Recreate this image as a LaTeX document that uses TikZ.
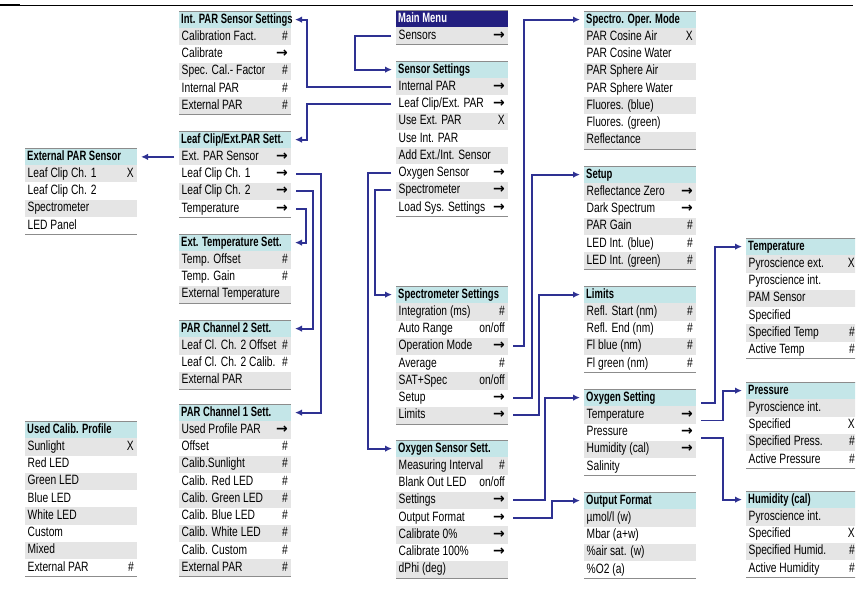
\documentclass[tikz,border=0pt]{standalone}
\usepackage{fontspec}
\setmainfont{Liberation Sans}[FakeStretch=0.76]
\newfontfamily\hdfont{Liberation Sans}[FakeStretch=0.70]
\newfontfamily\arrfont{DejaVu Sans}
\usetikzlibrary{arrows.meta,calc}
\definecolor{conncol}{RGB}{46,49,146}
\definecolor{hdcol}{RGB}{196,230,232}
\definecolor{mmcol}{RGB}{35,31,128}
\definecolor{rowgray}{RGB}{229,229,229}
\definecolor{edgecol}{RGB}{140,140,140}
\newcommand\ra{{\arrfont\bfseries\fontsize{14}{15}\selectfont →}}
\tikzset{
  rowbox/.style={draw=none, minimum width=112pt, minimum height=17.25pt, inner sep=0pt, outer sep=0pt, anchor=north west},
  hdbox/.style={rowbox, fill=hdcol},
  rowtext/.style={inner sep=0pt, text height=9.5pt, text depth=2.5pt, font=\fontsize{13.5}{15}\selectfont},
  hdtext/.style={inner sep=0pt, text height=9.5pt, text depth=2.5pt, font=\hdfont\bfseries\fontsize{13.5}{15}\selectfont},
  boxedge/.style={draw=edgecol, line width=0.9pt},
  conn/.style={draw=conncol, line width=1.8pt, -{Latex[length=7pt,width=6.5pt]}, shorten >=4pt, shorten <=5pt},
}
\newcommand\menubox[6][]{%
  \node[hdbox,#1] (#2-h) at (#3,#4) {};
  \node[hdtext,anchor=west,#1] (#2-ht) at ([xshift=2pt]#2-h.west) {#5};
  \draw[boxedge] (#2-h.north west) -- (#2-h.north east);
  \foreach[count=\i] \lab/\sym in {#6}{%
    \ifodd\i\def\rowfill{rowgray}\else\def\rowfill{white}\fi
    \node[rowbox, fill=\rowfill] (#2-\i) at (#3,{#4+17.25*\i}) {};
    \node[rowtext, anchor=west] (#2-\i-t) at ([xshift=2.5pt]#2-\i.west) {\lab};
    \node[rowtext, anchor=east] (#2-\i-s) at ([xshift=-3pt]#2-\i.east) {\sym};
    \xdef\lastrow{\i}
  }
  \draw[boxedge] (#2-\lastrow.south west) -- (#2-\lastrow.south east);
}
\begin{document}
\begin{tikzpicture}[x=1pt,y=-1pt]
\useasboundingbox (0,0) rectangle (864,604);
\begin{scope}
\clip (0,0) rectangle (855,604);
% top rule
\draw[line width=0.8pt] (0,5) -- (853,5);
\draw[line width=2.2pt] (0,5) -- (20,5);

% column C
\menubox[fill=mmcol,text=white]{mm}{396}{10}{Main Menu}{Sensors/\ra}
\menubox{ss}{396}{61}{Sensor Settings}{Internal PAR/\ra, {Leaf Clip/Ext. PAR}/\ra, Use Ext. PAR/X, Use Int. PAR/{}, {Add Ext./Int. Sensor}/{}, Oxygen Sensor/\ra, Spectrometer/\ra, Load Sys. Settings/\ra}
\menubox{sp}{396}{286}{Spectrometer Settings}{Integration (ms)/\#, Auto Range/{on/off}, Operation Mode/\ra, Average/\#, SAT+Spec/{on/off}, Setup/\ra, Limits/\ra}
\menubox{os}{396}{440}{Oxygen Sensor Sett.}{Measuring Interval/\#, Blank Out LED/{on/off}, Settings/\ra, Output Format/\ra, Calibrate 0\%/\ra, Calibrate 100\%/\ra, dPhi (deg)/{}}

% column B
\menubox{ipar}{179}{11}{Int. PAR Sensor Settings}{Calibration Fact./\#, Calibrate/\ra, Spec. Cal.- Factor/\#, Internal PAR/\#, External PAR/\#}
\menubox{lc}{179}{131}{Leaf Clip/Ext.PAR Sett.}{Ext. PAR Sensor/\ra, Leaf Clip Ch. 1/\ra, Leaf Clip Ch. 2/\ra, Temperature/\ra}
\menubox{et}{179}{234}{Ext. Temperature Sett.}{Temp. Offset/\#, Temp. Gain/\#, External Temperature/{}}
\menubox{ptwo}{179}{320}{PAR Channel 2 Sett.}{Leaf Cl. Ch. 2 Offset/\#, Leaf Cl. Ch. 2 Calib./\#, External PAR/{}}
\menubox{pone}{179}{404}{PAR Channel 1 Sett.}{Used Profile PAR/\ra, Offset/\#, Calib.Sunlight/\#, Calib. Red LED/\#, Calib. Green LED/\#, Calib. Blue LED/\#, Calib. White LED/\#, Calib. Custom/\#, External PAR/\#}

% column A
\menubox{eps}{25}{148}{External PAR Sensor}{Leaf Clip Ch. 1/X, Leaf Clip Ch. 2/{}, Spectrometer/{}, LED Panel/{}}
\menubox{ucp}{25}{421}{Used Calib. Profile}{Sunlight/X, Red LED/{}, Green LED/{}, Blue LED/{}, White LED/{}, Custom/{}, Mixed/{}, External PAR/\#}

% column D
\menubox{som}{584}{11}{Spectro. Oper. Mode}{PAR Cosine Air/X, PAR Cosine Water/{}, PAR Sphere Air/{}, PAR Sphere Water/{}, Fluores. (blue)/{}, Fluores. (green)/{}, Reflectance/{}}
\menubox{su}{584}{166}{Setup}{Reflectance Zero/\ra, Dark Spectrum/\ra, PAR Gain/\#, LED Int. (blue)/\#, LED Int. (green)/\#}
\menubox{li}{584}{286}{Limits}{Refl. Start (nm)/\#, Refl. End (nm)/\#, Fl blue (nm)/\#, Fl green (nm)/\#}
\menubox{ox}{584}{389}{Oxygen Setting}{Temperature/\ra, Pressure/\ra, Humidity (cal)/\ra, Salinity/{}}
\menubox{of}{584}{492}{Output Format}{{µmol/l (w)}/{}, Mbar (a+w)/{}, \%air sat. (w)/{}, \%O2 (a)/{}}

% column E
\menubox{te}{746}{238}{Temperature}{Pyroscience ext./X, Pyroscience int./{}, PAM Sensor/{}, Specified/{}, Specified Temp/\#, Active Temp/\#}
\menubox{pr}{746}{382}{Pressure}{Pyroscience int./{}, Specified/X, Specified Press./\#, Active Pressure/\#}
\menubox{hu}{746}{491}{Humidity (cal)}{Pyroscience int./{}, Specified/X, Specified Humid./\#, Active Humidity/\#}

% channel coordinates
\coordinate (xa) at (355,0);
\coordinate (xb) at (307,0);
\coordinate (xc) at (321,0);
\coordinate (xd) at (313,0);
\coordinate (xe) at (306,0);
\coordinate (xf) at (368,0);
\coordinate (xg) at (375,0);
\coordinate (xh) at (524,0);
\coordinate (xi) at (532,0);
\coordinate (xj) at (539,0);
\coordinate (xk) at (545,0);
\coordinate (xl) at (552,0);
\coordinate (xm) at (715,0);
\coordinate (xn) at (723,0);

% connectors
\draw[conn] (mm-1.west) -| (xa |- ss-h.west) -- (ss-h.west);
\draw[conn] (ss-1.west) -| (xb |- ipar-h.east) -- (ipar-h.east);
\draw[conn] (ss-2.west) -| (xb |- lc-h.east) -- (lc-h.east);
\draw[conn] (lc-1.west) -- (lc-1.west -| eps-h.east);
\draw[conn] (lc-2.east) -| (xc |- pone-h.east) -- (pone-h.east);
\draw[conn] (lc-3.east) -| (xd |- ptwo-h.east) -- (ptwo-h.east);
\draw[conn] (lc-4.east) -| (xe |- et-h.east) -- (et-h.east);
\draw[conn] (ss-6.west) -| (xf |- os-h.west) -- (os-h.west);
\draw[conn] (ss-7.west) -| (xg |- sp-h.west) -- (sp-h.west);
\draw[conn] (sp-3.east) -| (xh |- som-h.west) -- (som-h.west);
\draw[conn] (sp-6.east) -| (xi |- su-h.west) -- (su-h.west);
\draw[conn] (sp-7.east) -| (xj |- li-h.west) -- (li-h.west);
\draw[conn] (os-3.east) -| (xk |- ox-h.west) -- (ox-h.west);
\draw[conn] (os-4.east) -| (xl |- of-h.west) -- (of-h.west);
\draw[conn] ([yshift=3pt]ox-1.north east) -| (xm |- te-h.west) -- (te-h.west);
\draw[conn] ([yshift=3pt]ox-2.north east) -| (xn |- pr-h.west) -- (pr-h.west);
\draw[conn] ([yshift=3pt]ox-3.north east) -| (xn |- hu-h.west) -- (hu-h.west);
\end{scope}
\end{tikzpicture}
\end{document}
